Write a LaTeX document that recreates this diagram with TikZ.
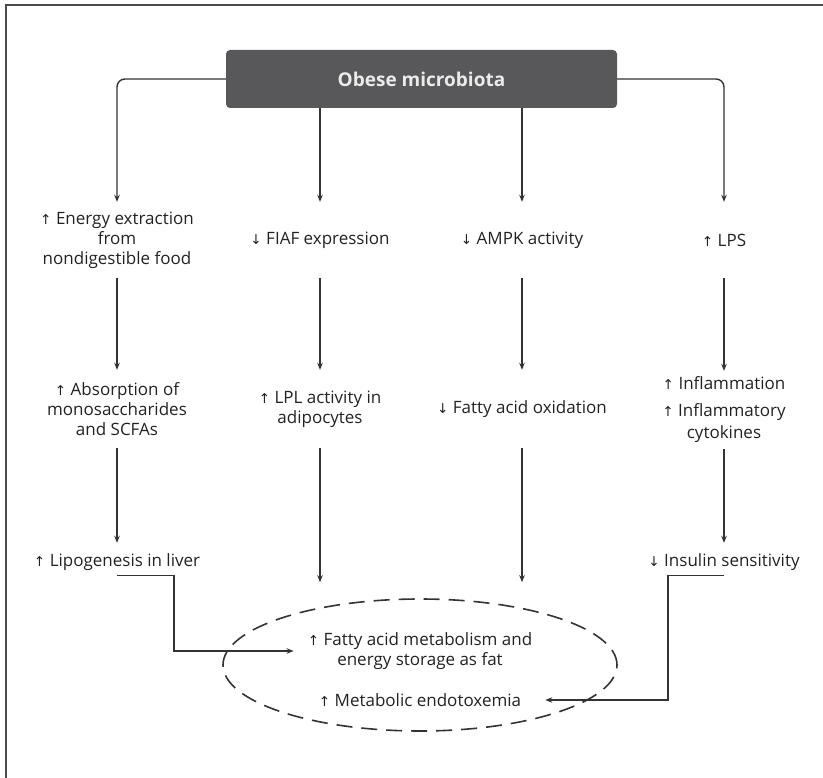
\documentclass[tikz,border=0pt]{standalone}
\usepackage{fontspec}
\setmainfont{Open Sans}
\newfontfamily\arrowfont{DejaVu Sans}[Scale=0.8]
\usetikzlibrary{arrows.meta,shapes.geometric}
\newcommand\uparr{{\arrowfont ↑}}
\newcommand\dnarr{{\arrowfont ↓}}
\definecolor{boxgrey}{HTML}{58585A}
\definecolor{ink}{HTML}{222222}
\definecolor{linegrey}{HTML}{333333}
\tikzset{
  txt/.style={font=\fontsize{17}{20}\selectfont, text=ink, align=center, inner sep=0pt},
  rowone/.style={txt, minimum height=76pt},
  rowtwo/.style={txt, minimum height=78pt},
  rowthree/.style={txt, minimum height=38pt},
  arr/.style={draw=linegrey, line width=1.4pt, -{Stealth[length=7pt,width=5.5pt]}},
  elbow/.style={draw=linegrey, line width=1.3pt, -{Stealth[length=7pt,width=5.5pt]}},
}
\begin{document}
\begin{tikzpicture}[x=1pt,y=-1pt]
  \useasboundingbox (0,0) rectangle (823,778);
  % frame (top and left edges)
  \draw[line width=2pt, draw=black!70] (823,5.5) -- (6,5.5) -- (6,778);

  % source box
  \node[fill=boxgrey, rounded corners=4pt, minimum width=391pt, minimum height=58pt,
        text=white!92!black, font=\fontsize{19}{22}\selectfont\bfseries]
        (src) at (421.5,79) {Obese microbiota};

  % first row
  \node[rowone] (e1) at (117,240) {\uparr\ Energy extraction\\from\\nondigestible food};
  \node[rowone] (e2) at (320,240) {\dnarr\ FIAF expression};
  \node[rowone] (e3) at (522,240) {\dnarr\ AMPK activity};
  \node[rowone] (e4) at (724,240) {\uparr\ LPS};

  % second row
  \node[rowtwo] (a1) at (117,409) {\uparr\ Absorption of\\monosaccharides\\and SCFAs};
  \node[rowtwo] (a2) at (320,409) {\uparr\ LPL activity in\\adipocytes};
  \node[rowtwo] (a3) at (522,409) {\dnarr\ Fatty acid oxidation};
  \node[rowtwo, font=\fontsize{17}{27}\selectfont] (a4) at (724,410) {\uparr\ Inflammation\\\uparr\ Inflammatory\\[-5pt]cytokines};

  % third row
  \node[rowthree] (l1) at (117,562) {\uparr\ Lipogenesis in liver};
  \node[rowthree] (l4) at (724,562) {\dnarr\ Insulin sensitivity};

  % outcome ellipse
  \node[ellipse, draw=linegrey, line width=1.6pt, dash pattern=on 16pt off 9pt,
        minimum width=394pt, minimum height=132pt] (ell) at (420,665) {};
  \node[txt] (t1) at (420,651) {\uparr\ Fatty acid metabolism and\\energy storage as fat};
  \node[txt] (t2) at (420,700) {\uparr\ Metabolic endotoxemia};

  % connectors
  \draw[arr, rounded corners=8pt] (src.west |- 0,79) -| (e1.north);
  \draw[arr, rounded corners=8pt] (src.east |- 0,79) -| (e4.north);
  \draw[arr] (src.south -| e2) -- (e2.north);
  \draw[arr] (src.south -| e3) -- (e3.north);

  \draw[arr] (e1.south) -- (a1.north);
  \draw[arr] (e2.south) -- (a2.north);
  \draw[arr] (e3.south) -- (a3.north);
  \draw[arr] (e4.south) -- (a4.north);

  \draw[arr] (a1.south) -- (l1.north);
  \draw[arr] (a4.south) -- (l4.north);
  \draw[arr, shorten >=16pt] (a2.south) -- (a2.south |- ell.north);
  \draw[arr, shorten >=16pt] (a3.south) -- (a3.south |- ell.north);

  \coordinate (bendL) at (174,0);
  \coordinate (bendR) at (668,0);
  \draw[elbow, shorten >=14pt] ([yshift=6pt]l1.south) -| (bendL |- t1.west) -- (t1.west);
  \draw[elbow, shorten >=24pt] ([yshift=6pt]l4.south) -| (bendR |- t2.east) -- (t2.east);
\end{tikzpicture}
\end{document}
